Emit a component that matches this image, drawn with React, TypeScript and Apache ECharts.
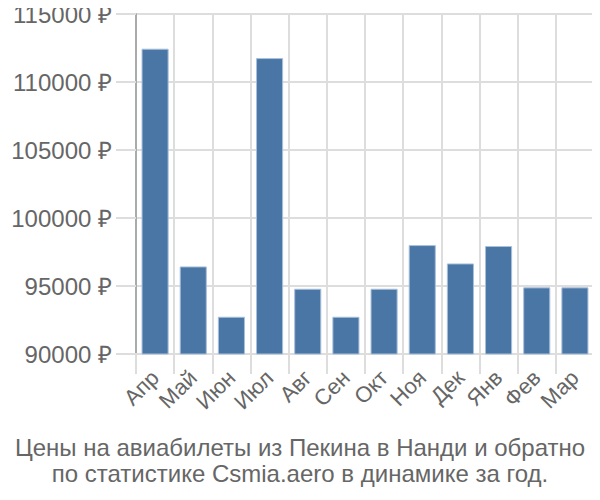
import React, { useEffect, useRef } from "react";
import * as echarts from "echarts";

const months = ["Апр", "Май", "Июн", "Июл", "Авг", "Сен", "Окт", "Ноя", "Дек", "Янв", "Фев", "Мар"];
const prices = [112450, 96440, 92740, 111760, 94800, 92740, 94800, 98010, 96660, 97940, 94900, 94900];
const titleLines = [
  "Цены на авиабилеты из Пекина в Нанди и обратно",
  "по статистике Csmia.aero в динамике за год.",
];

const FONT = '"Liberation Sans", Arial, sans-serif';

export default function App() {
  const ref = useRef<HTMLDivElement>(null);
  useEffect(() => {
    if (!ref.current) return;
    const chart = echarts.init(ref.current, undefined, { renderer: "svg" });
    chart.setOption({
      animation: false,
      textStyle: { fontFamily: FONT },
      title: {
        text: titleLines.join("\n"),
        left: "center",
        top: 429,
        textStyle: { fontFamily: FONT, fontSize: 24, fontWeight: "normal", color: "#666", lineHeight: 26 },
      },
      grid: { left: 136, right: 6, top: 14, bottom: 146, containLabel: false },
      xAxis: {
        type: "category",
        data: months,
        boundaryGap: true,
        axisLine: { show: true, lineStyle: { color: "#ddd", width: 2 } },
        axisTick: { show: true, length: 20, lineStyle: { color: "#ddd", width: 2 } },
        splitLine: { show: true, lineStyle: { color: "#ddd", width: 2 } },
        axisLabel: { rotate: 45, fontSize: 22, color: "#666", margin: 20, interval: 0, fontFamily: FONT },
      },
      yAxis: {
        type: "value",
        min: 90000,
        max: 115000,
        interval: 5000,
        axisLine: { show: true, lineStyle: { color: "#aaa", width: 2 } },
        axisTick: { show: true, length: 20, lineStyle: { color: "#ddd", width: 2 } },
        splitLine: { show: true, lineStyle: { color: "#ddd", width: 2 } },
        axisLabel: { fontSize: 24, color: "#666", margin: 24, fontFamily: FONT, formatter: (v: number) => `${v} ₽` },
      },
      series: [
        {
          type: "bar",
          data: prices,
          barCategoryGap: "29%",
          itemStyle: { color: "#4a76a6", borderColor: "#a9c0da", borderWidth: 1 },
        },
      ],
    });
    return () => chart.dispose();
  }, []);
  return <div ref={ref} style={{ width: 600, height: 500, margin: -8 }} />;
}
